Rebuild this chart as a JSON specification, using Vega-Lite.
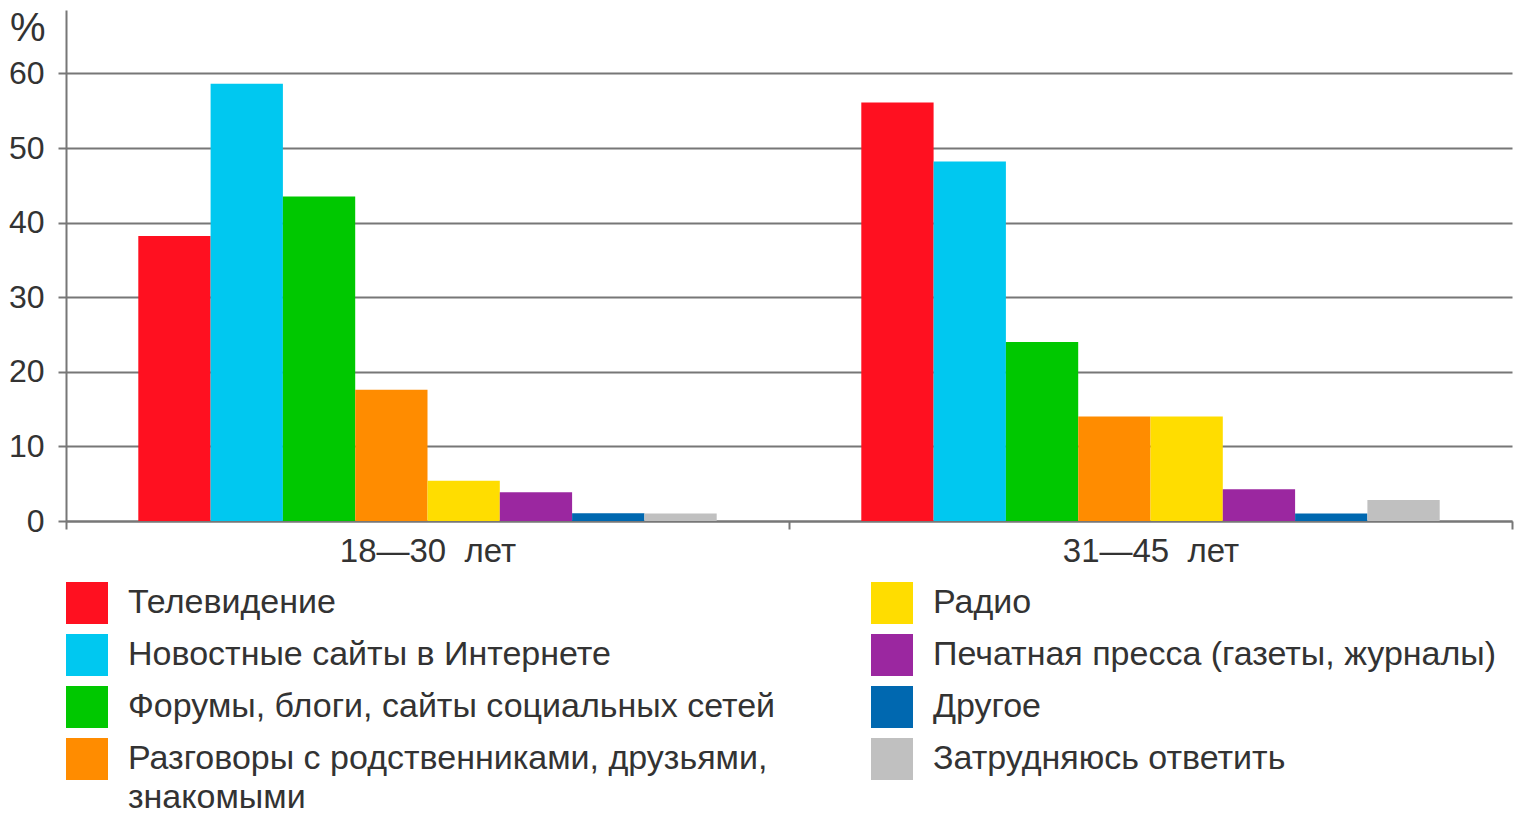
{
  "$schema": "https://vega.github.io/schema/vega-lite/v6.json",
  "width": 1446,
  "height": 511,
  "autosize": "none",
  "padding": {"left": 66, "top": 10, "right": 12, "bottom": 302},
  "background": "white",
  "config": {
    "font": "Liberation Sans",
    "view": {"stroke": null},
    "axis": {"labelColor": "#333333", "titleColor": "#333333", "domainColor": "#777777", "tickColor": "#777777", "gridColor": "#777777"}
  },
  "data": {
    "values": [
      {"group": "18—30\u00a0 лет", "source": "Телевидение", "value": 38.2},
      {"group": "18—30\u00a0 лет", "source": "Новостные сайты в Интернете", "value": 58.6},
      {"group": "18—30\u00a0 лет", "source": "Форумы, блоги, сайты социальных сетей", "value": 43.5},
      {"group": "18—30\u00a0 лет", "source": "Разговоры с родственниками, друзьями, знакомыми", "value": 17.6},
      {"group": "18—30\u00a0 лет", "source": "Радио", "value": 5.4},
      {"group": "18—30\u00a0 лет", "source": "Печатная пресса (газеты, журналы)", "value": 3.85},
      {"group": "18—30\u00a0 лет", "source": "Другое", "value": 1.05},
      {"group": "18—30\u00a0 лет", "source": "Затрудняюсь ответить", "value": 1.0},
      {"group": "31—45\u00a0 лет", "source": "Телевидение", "value": 56.1},
      {"group": "31—45\u00a0 лет", "source": "Новостные сайты в Интернете", "value": 48.2},
      {"group": "31—45\u00a0 лет", "source": "Форумы, блоги, сайты социальных сетей", "value": 24.0},
      {"group": "31—45\u00a0 лет", "source": "Разговоры с родственниками, друзьями, знакомыми", "value": 14.0},
      {"group": "31—45\u00a0 лет", "source": "Радио", "value": 14.0},
      {"group": "31—45\u00a0 лет", "source": "Печатная пресса (газеты, журналы)", "value": 4.25},
      {"group": "31—45\u00a0 лет", "source": "Другое", "value": 1.0},
      {"group": "31—45\u00a0 лет", "source": "Затрудняюсь ответить", "value": 2.8}
    ]
  },
  "mark": {"type": "bar"},
  "encoding": {
    "x": {
      "field": "group",
      "type": "nominal",
      "title": null,
      "scale": {"paddingInner": 0, "paddingOuter": 0},
      "axis": {
        "labelAngle": 0,
        "labelFontSize": 33,
        "labelPadding": 6,
        "tickBand": "extent",
        "tickSize": 8,
        "tickWidth": 2,
        "domainWidth": 2
      }
    },
    "xOffset": {
      "field": "source",
      "type": "nominal",
      "sort": ["Телевидение", "Новостные сайты в Интернете", "Форумы, блоги, сайты социальных сетей", "Разговоры с родственниками, друзьями, знакомыми", "Радио", "Печатная пресса (газеты, журналы)", "Другое", "Затрудняюсь ответить"],
      "scale": {"paddingInner": 0, "paddingOuter": 1}
    },
    "y": {
      "field": "value",
      "type": "quantitative",
      "scale": {"domain": [0, 68.5], "nice": false},
      "axis": {
        "values": [0, 10, 20, 30, 40, 50, 60],
        "title": "%",
        "titleAngle": 0,
        "titleAlign": "right",
        "titleBaseline": "middle",
        "titleX": -21,
        "titleY": 18,
        "titleFontSize": 40,
        "titleFontWeight": "normal",
        "labelFontSize": 32,
        "labelPadding": 14,
        "tickSize": 8,
        "tickWidth": 2,
        "gridWidth": 2,
        "domainWidth": 2,
        "grid": true
      }
    },
    "color": {
      "field": "source",
      "type": "nominal",
      "title": null,
      "scale": {
        "domain": ["Телевидение", "Новостные сайты в Интернете", "Форумы, блоги, сайты социальных сетей", "Разговоры с родственниками, друзьями, знакомыми", "Радио", "Печатная пресса (газеты, журналы)", "Другое", "Затрудняюсь ответить"],
        "range": ["#ff1020", "#00c8f0", "#00c800", "#ff8c00", "#ffdd00", "#9b27a0", "#0068b0", "#c0c0c0"]
      },
      "legend": {
        "orient": "none",
        "legendX": 0,
        "legendY": 572,
        "columns": 2,
        "columnPadding": 95,
        "rowPadding": 10,
        "padding": 0,
        "symbolType": "square",
        "symbolSize": 1764,
        "symbolStrokeWidth": 0,
        "symbolOpacity": 1,
        "labelFontSize": 34,
        "labelColor": "#333333",
        "labelOffset": 20,
        "labelLimit": 0,
        "labelExpr": "datum.label == 'Разговоры с родственниками, друзьями, знакомыми' ? ['Разговоры с родственниками, друзьями,', 'знакомыми'] : datum.label",
        "encode": {"labels": {"update": {"lineHeight": {"value": 39}}}}
      }
    }
  }
}
